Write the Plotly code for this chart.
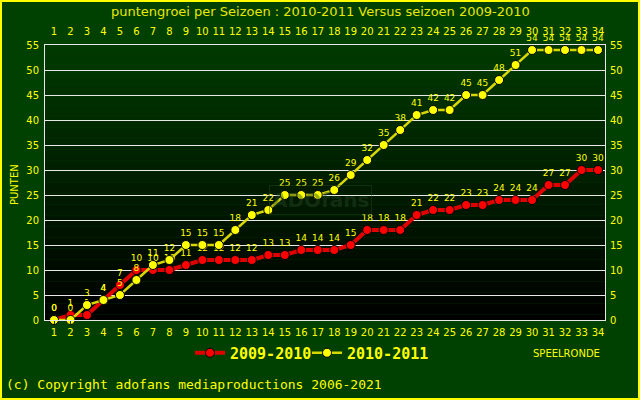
import plotly.graph_objects as go

rounds = list(range(1, 35))
season_2009_2010 = [0, 1, 1, 4, 7, 10, 10, 10, 11, 12, 12, 12, 12, 13, 13, 14, 14, 14, 15, 18,
                    18, 18, 21, 22, 22, 23, 23, 24, 24, 24, 27, 27, 30, 30]
season_2010_2011 = [0, 0, 3, 4, 5, 8, 11, 12, 15, 15, 15, 18, 21, 22, 25, 25, 25, 26, 29, 32,
                    35, 38, 41, 42, 42, 45, 45, 48, 51, 54, 54, 54, 54, 54]
y_ticks = list(range(0, 60, 5))

W, H = 640, 400
L, R, T, B = 45, 35, 45, 80
PW, PH = W - L - R, H - T - B

def px(x):
    return (x - L) / PW

def py(y):
    return (H - B - y) / PH

YEL = "#ffff00"
BG = "#004000"
fig = go.Figure()

fig.add_trace(go.Scatter(
    x=rounds, y=season_2009_2010, name="<b>2009-2010</b>",
    mode="lines+markers+text", text=[str(v) for v in season_2009_2010],
    textposition="top center", textfont=dict(color=YEL, size=9, family="DejaVu Sans"),
    line=dict(color="#e00000", width=4),
    marker=dict(color="#ff0000", size=9, line=dict(color="black", width=1)),
    cliponaxis=False, legend="legend",
))
fig.add_trace(go.Scatter(
    x=rounds, y=season_2010_2011, name="<b>2010-2011</b>",
    mode="lines+markers+text", text=[str(v) for v in season_2010_2011],
    textposition="top center", textfont=dict(color=YEL, size=9, family="DejaVu Sans"),
    line=dict(color="#d8d800", width=2.5),
    marker=dict(color="#ffff00", size=9, line=dict(color="black", width=1)),
    cliponaxis=False, legend="legend2",
))
# invisible helper trace for top / right axes
fig.add_trace(go.Scatter(
    x=rounds, y=season_2010_2011, xaxis="x2", yaxis="y2", mode="markers",
    marker=dict(opacity=0), showlegend=False, hoverinfo="skip",
))

xr = [0.454, 34.425]
yr = [0, 55]
tickfont = dict(color=YEL, size=10, family="DejaVu Sans")

shapes = []
N = 50
top = (0, 58, 0)
for i in range(N):
    f = (i + 0.5) / N  # 0 bottom -> 1 top
    c = tuple(int(round(t * f)) for t in top)
    shapes.append(dict(type="rect", xref="paper", yref="paper", x0=0, x1=1,
                       y0=i / N, y1=(i + 1) / N, fillcolor="rgb(%d,%d,%d)" % c,
                       line=dict(width=0), layer="below"))
shapes.append(dict(type="rect", xref="paper", yref="paper",
                   x0=px(1), x1=px(639), y0=py(399), y1=py(1),
                   line=dict(color=YEL, width=2), fillcolor="rgba(0,0,0,0)", layer="above"))

legfont = dict(family="DejaVu Sans Mono", size=15, color=YEL)
fig.update_layout(
    width=W, height=H, margin=dict(l=L, r=R, t=T, b=B),
    paper_bgcolor=BG, plot_bgcolor="rgba(0,0,0,0)",
    font=dict(family="DejaVu Sans", color=YEL),
    shapes=shapes,
    xaxis=dict(range=xr, tickmode="array", tickvals=rounds, showgrid=False, zeroline=False,
               showline=True, linecolor="#e8e8e8", linewidth=1, mirror=True,
               tickfont=tickfont, ticks="outside", ticklen=3, tickcolor=BG),
    xaxis2=dict(range=xr, overlaying="x", side="top", tickmode="array", tickvals=rounds,
                showgrid=False, zeroline=False, tickfont=tickfont,
                ticks="outside", ticklen=5, tickcolor=BG),
    yaxis=dict(range=yr, tickmode="array", tickvals=y_ticks, showgrid=True,
               gridcolor="#e8e8e8", gridwidth=1, zeroline=False,
               showline=True, linecolor="#e8e8e8", linewidth=1, mirror=True,
               tickfont=tickfont, ticks="outside", ticklen=3, tickcolor=BG),
    yaxis2=dict(range=yr, overlaying="y", side="right", tickmode="array", tickvals=y_ticks,
                showgrid=False, zeroline=False, tickfont=tickfont,
                ticks="outside", ticklen=2, tickcolor=BG),
    legend=dict(orientation="h", x=px(190), y=py(353), xanchor="left", yanchor="middle",
                font=legfont, bgcolor="rgba(0,0,0,0)", itemwidth=30),
    legend2=dict(orientation="h", x=px(307), y=py(353), xanchor="left", yanchor="middle",
                 font=legfont, bgcolor="rgba(0,0,0,0)", itemwidth=30),
    showlegend=True,
    annotations=[
        dict(text="puntengroei per Seizoen : 2010-2011 Versus seizoen 2009-2010",
             xref="paper", yref="paper", x=px(320), y=py(12), xanchor="center",
             yanchor="middle", showarrow=False,
             font=dict(size=13, color="#e8e800", family="DejaVu Sans")),
        dict(text="PUNTEN", xref="paper", yref="paper", x=px(15), y=py(185),
             textangle=-90, showarrow=False, xanchor="center", yanchor="middle",
             font=dict(size=10, color=YEL, family="DejaVu Sans")),
        dict(text="SPEELRONDE", xref="paper", yref="paper", x=px(602), y=py(353),
             xanchor="right", yanchor="middle", showarrow=False,
             font=dict(size=10, color=YEL, family="DejaVu Sans")),
        dict(text="(c) Copyright adofans mediaproductions 2006-2021", xref="paper",
             yref="paper", x=px(4), y=py(384), xanchor="left", yanchor="middle",
             showarrow=False, font=dict(size=13, color=YEL, family="DejaVu Sans Mono")),
        dict(text="<b>ADOfans</b>", xref="paper", yref="paper", x=px(320), y=py(200),
             xanchor="center", yanchor="middle", showarrow=False,
             font=dict(size=20, color="rgba(40,70,40,0.45)", family="DejaVu Sans"),
             bordercolor="rgba(40,70,40,0.45)", borderwidth=1, borderpad=2),
    ],
)

fig.write_html("out.html")
